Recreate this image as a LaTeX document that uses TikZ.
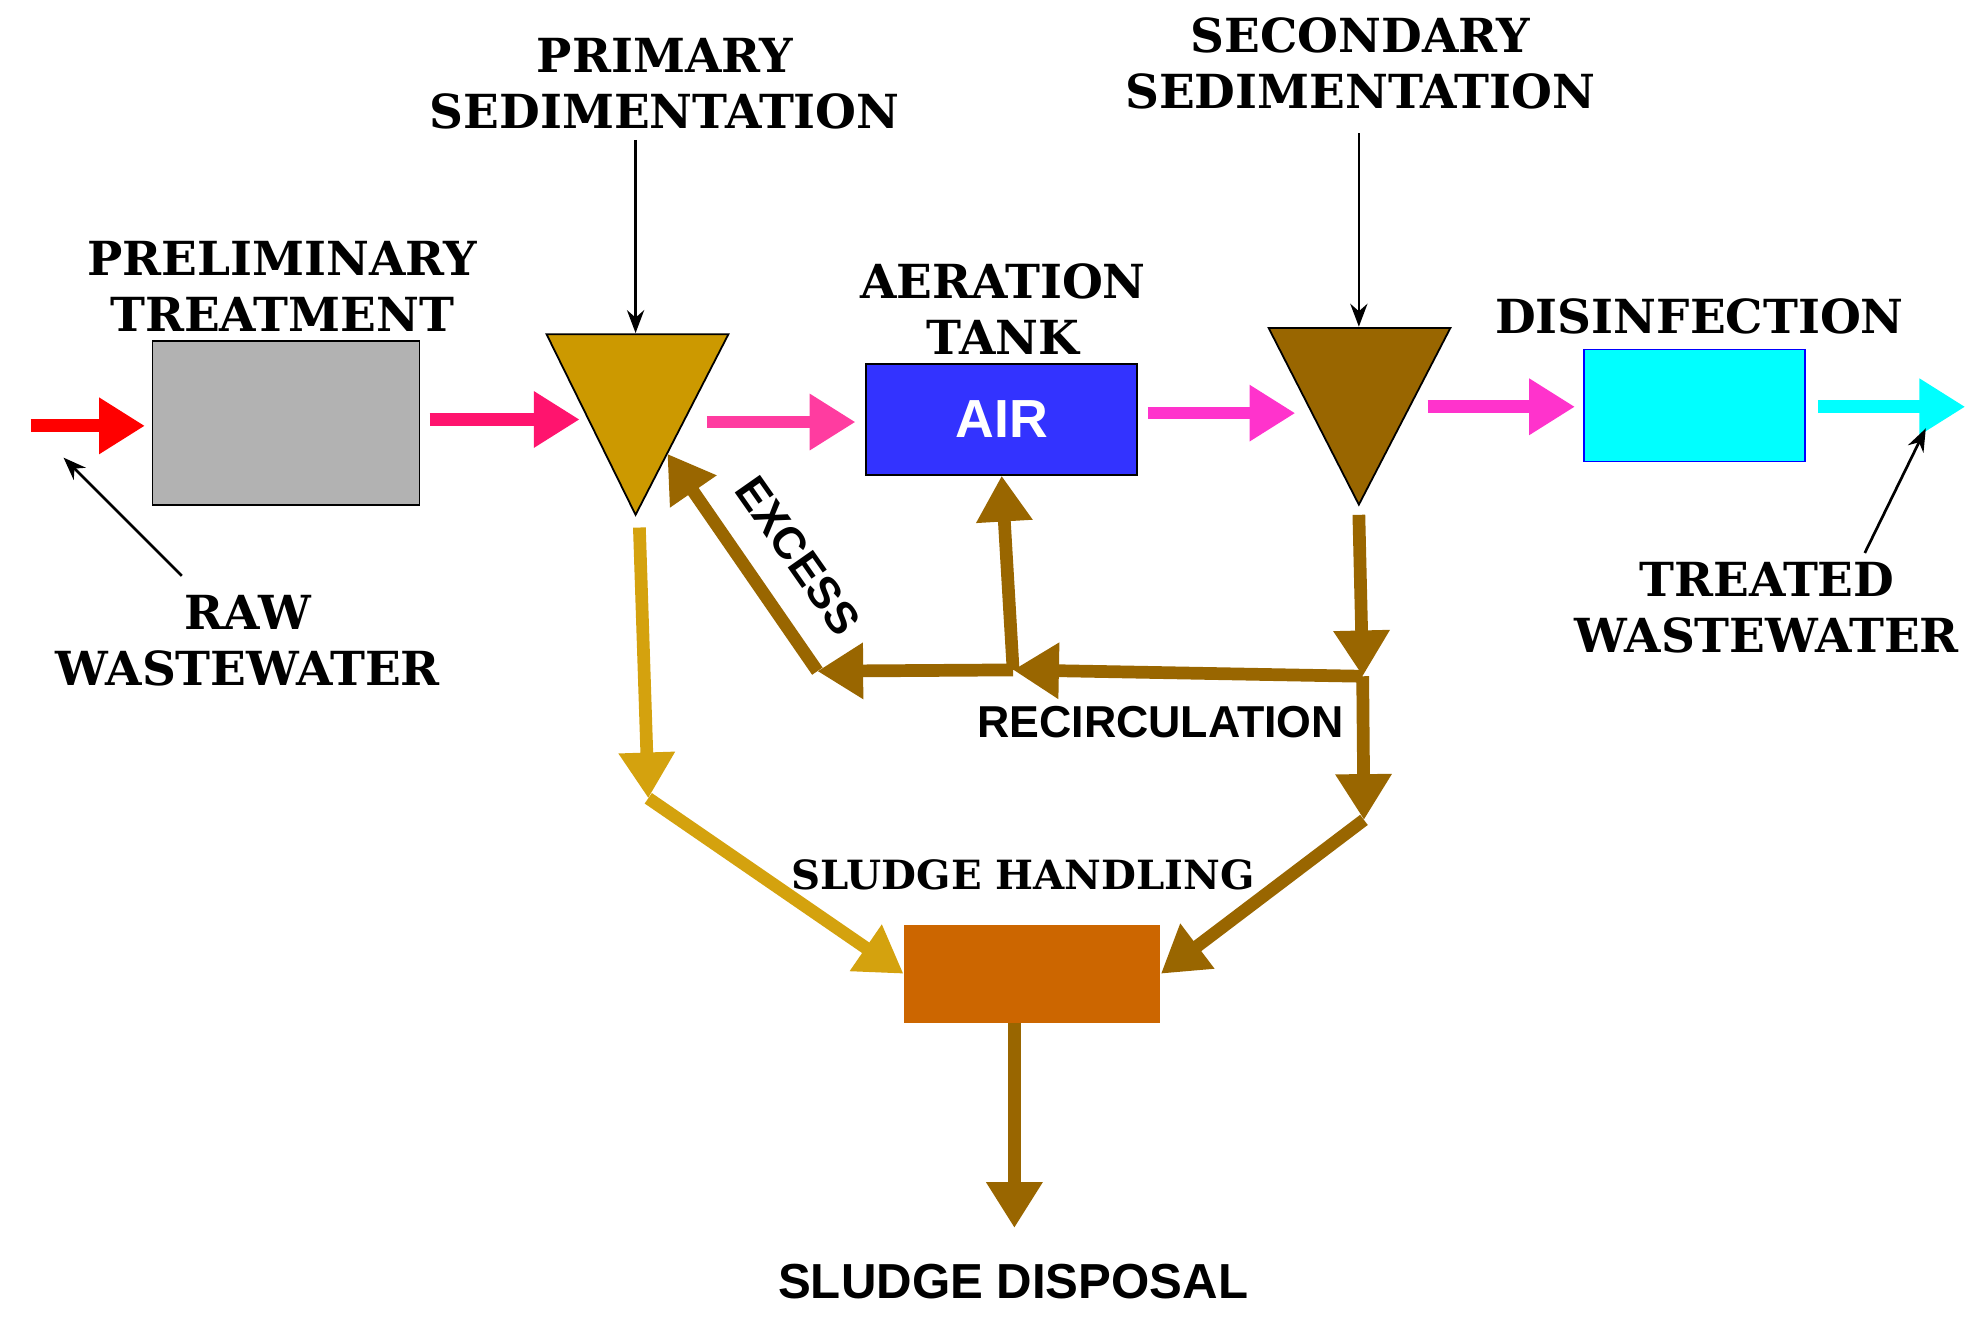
\documentclass[tikz,border=0pt]{standalone}
\usepackage{fontspec}
\setmainfont{Liberation Sans}
\newfontfamily\slab{DejaVu Serif}
\usetikzlibrary{arrows.meta}
\definecolor{gold}{HTML}{CC9900}
\definecolor{brn}{HTML}{996600}
\definecolor{gldl}{HTML}{D4A20E}
\definecolor{pk1}{HTML}{FF146E}
\definecolor{pk2}{HTML}{FF3CA0}
\definecolor{pk3}{HTML}{FF33CC}
\definecolor{blu}{HTML}{3333FF}
\definecolor{org}{HTML}{CC6600}
\definecolor{cyn}{HTML}{00FFFF}
\begin{document}
\begin{tikzpicture}[x=0.01cm,y=-0.01cm,
  big/.style={line width=0.1cm,-{Triangle[length=0.36cm,width=0.42cm]}},
  thin/.style={line width=0.6pt,-{Stealth[length=0.18cm]}},
  hd/.style={font=\slab\bfseries\fontsize{10.5}{12.5}\selectfont,align=center},
  sl/.style={font=\bfseries\fontsize{10}{12}\selectfont}]
\useasboundingbox (0,0) rectangle (1560,1039);
% boxes
\node[draw=black,fill=black!30,minimum width=2.1cm,minimum height=1.29cm,inner sep=0] (pre) at (225,333) {};
\node[draw=black,fill=blu,minimum width=2.13cm,minimum height=0.87cm,inner sep=0,text=white,font=\bfseries\fontsize{12}{14}\selectfont] (air) at (788,330) {AIR};
\node[draw=blue,fill=cyn,minimum width=1.74cm,minimum height=0.88cm,inner sep=0] (dis) at (1333,319) {};
\node[fill=org,minimum width=2.01cm,minimum height=0.77cm,inner sep=0] (slh) at (812,766) {};
% triangles
\draw[fill=gold] (430,263) -- (573,263) -- (500,405) -- cycle;
\draw[fill=brn] (998,258) -- (1141,258) -- (1069,397) -- cycle;
\coordinate (ps) at (500,262);
\coordinate (ss) at (1069,257);
% flow arrows
\coordinate (r0) at (24,335); \coordinate (r1) at (114,335);
\draw[big,red] (r0) -- (r1);
\coordinate (a0) at (338,330); \coordinate (a1) at (456,330);
\draw[big,pk1] (a0) -- (a1);
\coordinate (b0) at (556,332); \coordinate (b1) at (673,332);
\draw[big,pk2] (b0) -- (b1);
\coordinate (c0) at (903,325); \coordinate (c1) at (1019,325);
\draw[big,pk3] (c0) -- (c1);
\coordinate (d0) at (1123,320); \coordinate (d1) at (1239,320);
\draw[big,pk3] (d0) -- (d1);
\coordinate (e0) at (1430,320); \coordinate (e1) at (1546,320);
\draw[big,cyn] (e0) -- (e1);
% thin arrows
\coordinate (t1) at (500,110); \draw[thin] (t1) -- (ps);
\coordinate (t2) at (1069,105); \draw[thin] (t2) -- (ss);
\coordinate (t3) at (143,453); \coordinate (t3e) at (50,360); \draw[thin] (t3) -- (t3e);
\coordinate (t4) at (1467,435); \coordinate (t4e) at (1515,337); \draw[thin] (t4) -- (t4e);
% sludge lines
\coordinate (p0) at (503,415); \coordinate (p1) at (510,628);
\draw[big,gldl] (p0) -- (p1);
\draw[big,gldl] (p1) -- (slh.west);
\coordinate (s0) at (1069,405); \coordinate (s1) at (1072,532); \coordinate (s2) at (1073,645);
\draw[big,brn] (s0) -- (s1);
\draw[big,brn] (s1) -- (s2);
\draw[big,brn] (s2) -- (slh.east);
\coordinate (m1) at (797,527); \coordinate (m2) at (643,528); \coordinate (ex) at (525,357);
\draw[big,brn] (s1) -- (m1);
\draw[big,brn] (m1) -- (m2);
\draw[big,brn] (m2) -- (ex);
\draw[big,brn] (m1) -- (air.south);
\coordinate (st) at (798,805); \coordinate (sd) at (798,966);
\draw[big,brn] (st) -- (sd);
% labels
\node[hd] (l1) at (222,225) {PRELIMINARY\\TREATMENT};
\node[hd] (l2) at (523,66) {PRIMARY\\SEDIMENTATION};
\node[hd] (l3) at (789,243) {AERATION\\TANK};
\node[hd] (l4) at (1070,50) {SECONDARY\\SEDIMENTATION};
\node[hd] (l5) at (1337,249) {DISINFECTION};
\node[hd] (l6) at (195,504) {RAW\\WASTEWATER};
\node[hd] (l7) at (1390,478) {TREATED\\WASTEWATER};
\node[hd,font=\slab\bfseries\fontsize{9}{11}\selectfont] (l8) at (805,688) {SLUDGE HANDLING};
\node[sl] (l9) at (913,568) {RECIRCULATION};
\node[sl,rotate=-55] (l10) at (628,437) {EXCESS};
\node[font=\bfseries\fontsize{11}{13}\selectfont] (l11) at (797,1008) {SLUDGE DISPOSAL};
\end{tikzpicture}
\end{document}
